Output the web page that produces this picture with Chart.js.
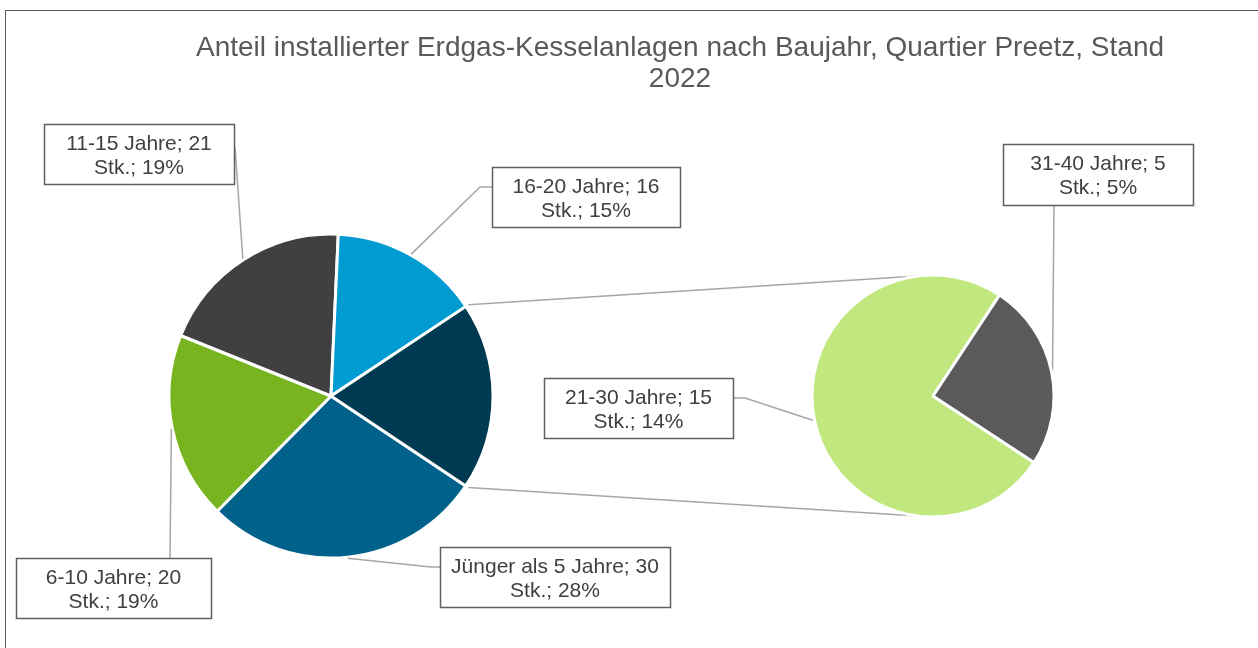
<!DOCTYPE html>
<html>
<head>
<meta charset="utf-8">
<script src="https://cdn.jsdelivr.net/npm/chart.js@4"></script>
<style>
  html,body{margin:0;padding:0;background:#fff;}
  #wrap{position:relative;width:1258px;height:648px;overflow:hidden;}
  #wrap canvas{position:absolute;left:0;top:0;}
  #frame{position:absolute;left:5px;top:10px;width:1300px;height:700px;border-left:1px solid #5a5a5a;border-top:1px solid #5a5a5a;}
</style>
</head>
<body>
<div id="wrap">
  <div id="frame"></div>
  <canvas id="main" width="1258" height="648"></canvas>
  <canvas id="side" width="1258" height="648"></canvas>
</div>
<script>
// Erdgas-Kessel nach Alter; die letzten zwei werden im Nebenkreis aufgelöst
const TITLE = ["Anteil installierter Erdgas-Kesselanlagen nach Baujahr, Quartier Preetz, Stand", "2022"];
const categories = ["Jünger als 5 Jahre", "6-10 Jahre", "11-15 Jahre", "16-20 Jahre", "21-30 Jahre", "31-40 Jahre"];
const counts = [30, 20, 21, 16, 15, 5];
const shares = [28, 19, 19, 15, 14, 5];
const mainColors = ["#00628a", "#78b41f", "#404042", "#009bd0", "#003a52"];
const sideColors = ["#c0e87e", "#5a5a5c"];
const SPLIT = 4; // ab hier im Nebenkreis

// label boxes: [x, y, w, h], leader attach point, optional elbow
const boxes = [
  { r: [440, 547, 230, 60], a: [440, 567], e: [431, 567] },
  { r: [16, 558, 195, 60], a: [170, 558] },
  { r: [44, 124, 190, 60], a: [235, 147] },
  { r: [492, 167, 188, 60], a: [492, 187], e: [480, 187] },
  { r: [544, 378, 189, 60], a: [733, 398], e: [745, 398] },
  { r: [1003, 144, 190, 61], a: [1054, 205] },
];

const mainData = counts.slice(0, SPLIT).concat([counts.slice(SPLIT).reduce((s, v) => s + v, 0)]);
const sideData = counts.slice(SPLIT);

const FONT = '"Liberation Sans", Arial, Helvetica, sans-serif';

const mainChart = new Chart(document.getElementById("main"), {
  type: "pie",
  data: { labels: categories.slice(0, SPLIT).concat(["Andere"]),
    datasets: [{ data: mainData, backgroundColor: mainColors, borderColor: "#fff", borderWidth: 3, hoverOffset: 0, offset: 0 }] },
  options: { responsive: false, animation: false, rotation: 123.7, radius: 162,
    layout: { padding: { left: 0, right: 596, top: 144, bottom: 0 } },
    plugins: { legend: { display: false }, tooltip: { enabled: false } } }
});

function edge(arc, grow) {
  const p = arc.getProps(["x", "y", "startAngle", "endAngle", "outerRadius"], true);
  const m = (p.startAngle + p.endAngle) / 2, r = p.outerRadius + grow;
  return [p.x + Math.cos(m) * r, p.y + Math.sin(m) * r];
}

const overlay = {
  id: "overlay",
  beforeDatasetsDraw(chart) {
    const ctx = chart.ctx;
    const mArcs = mainChart.getDatasetMeta(0).data;
    const sArcs = chart.getDatasetMeta(0).data;
    ctx.save();
    ctx.strokeStyle = "#a6a6a6"; ctx.lineWidth = 1.5;
    // connector lines from the "Andere" slice to the secondary pie
    const o = mArcs[SPLIT].getProps(["x", "y", "startAngle", "endAngle", "outerRadius"], true);
    const s = sArcs[0].getProps(["x", "y", "outerRadius"], true);
    const rr = o.outerRadius + 3;
    ctx.beginPath();
    ctx.moveTo(o.x + Math.cos(o.startAngle) * rr, o.y + Math.sin(o.startAngle) * rr);
    ctx.lineTo(s.x, s.y - s.outerRadius);
    ctx.moveTo(o.x + Math.cos(o.endAngle) * rr, o.y + Math.sin(o.endAngle) * rr);
    ctx.lineTo(s.x, s.y + s.outerRadius);
    ctx.stroke();
    // leader lines
    categories.forEach((c, i) => {
      const arc = i < SPLIT ? mArcs[i] : sArcs[i - SPLIT];
      const p = edge(arc, 1), b = boxes[i];
      ctx.beginPath();
      ctx.moveTo(b.a[0], b.a[1]);
      if (b.e) ctx.lineTo(b.e[0], b.e[1]);
      ctx.lineTo(p[0], p[1]);
      ctx.stroke();
    });
    ctx.restore();
  },
  afterDatasetsDraw(chart) {
    const ctx = chart.ctx;
    ctx.save();
    categories.forEach((c, i) => {
      const [x, y, w, h] = boxes[i].r;
      ctx.fillStyle = "#fff";
      ctx.fillRect(x, y, w, h);
      ctx.strokeStyle = "#5f5f5f"; ctx.lineWidth = 1.5;
      ctx.strokeRect(x + 0.5, y + 0.5, w, h);
      ctx.fillStyle = "#404040";
      ctx.font = "21px " + FONT;
      ctx.textAlign = "center"; ctx.textBaseline = "alphabetic";
      ctx.fillText(c + "; " + counts[i], x + w / 2, y + 26);
      ctx.fillText("Stk.; " + shares[i] + "%", x + w / 2, y + 50);
    });
    ctx.fillStyle = "#595959";
    ctx.font = "28px " + FONT;
    ctx.textAlign = "center";
    ctx.fillText(TITLE[0], 680, 56);
    ctx.fillText(TITLE[1], 680, 87);
    ctx.restore();
  }
};

const sideChart = new Chart(document.getElementById("side"), {
  type: "pie",
  data: { labels: categories.slice(SPLIT),
    datasets: [{ data: sideData, backgroundColor: sideColors, borderColor: "#fff", borderWidth: 3, hoverOffset: 0, offset: 0 }] },
  options: { responsive: false, animation: false, rotation: 123.4, radius: 121,
    layout: { padding: { left: 608, right: 0, top: 144, bottom: 0 } },
    plugins: { legend: { display: false }, tooltip: { enabled: false } } },
  plugins: [overlay]
});
</script>
</body>
</html>
